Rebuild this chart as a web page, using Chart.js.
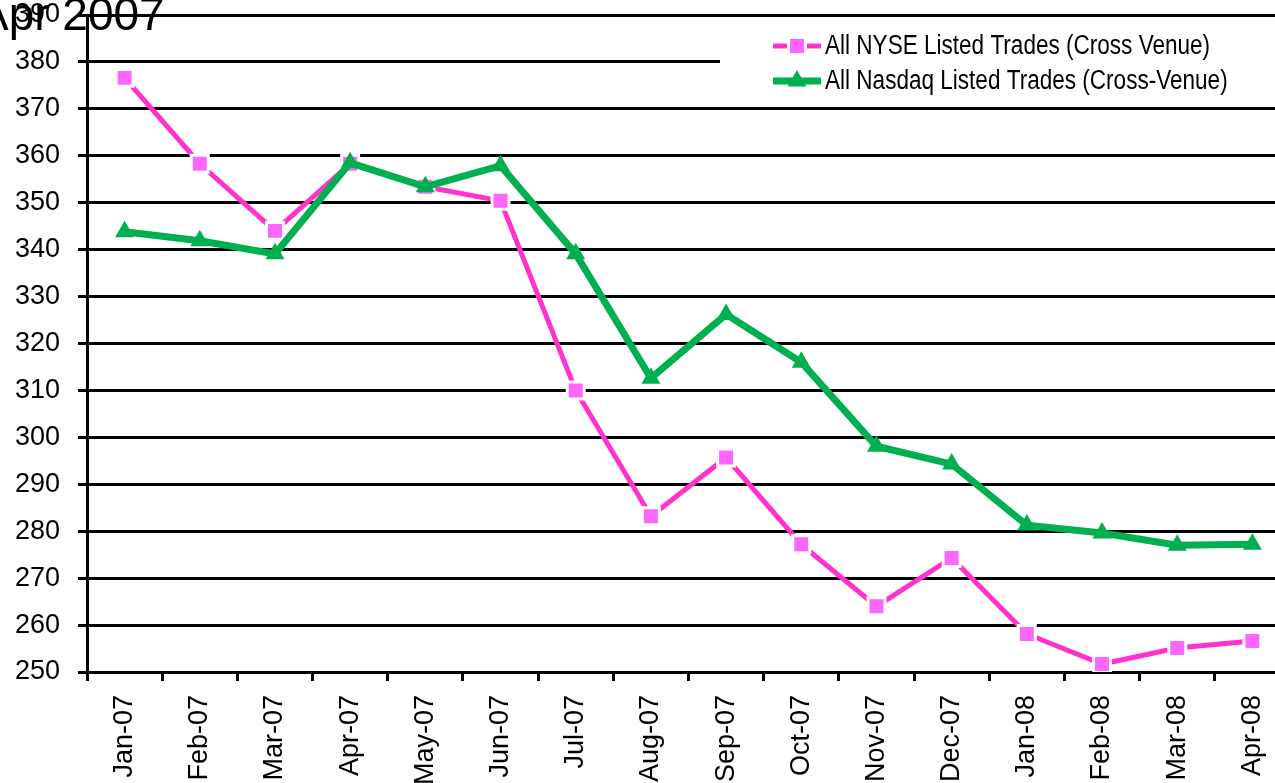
<!DOCTYPE html>
<html>
<head>
<meta charset="utf-8">
<script src="https://cdn.jsdelivr.net/npm/chart.js@4/dist/chart.umd.min.js"></script>
<style>
  html, body { margin: 0; padding: 0; background: #fff; overflow: hidden; }
  #wrap { position: relative; width: 1305px; height: 783px; }
</style>
</head>
<body>
<div id="wrap"><canvas id="c" width="1305" height="783"></canvas></div>
<script>
const chartTitle = 'Apr 2007';
const categories = ['Jan-07','Feb-07','Mar-07','Apr-07','May-07','Jun-07','Jul-07','Aug-07','Sep-07','Oct-07','Nov-07','Dec-07','Jan-08','Feb-08','Mar-08','Apr-08'];
const nyseLabel = 'All NYSE Listed Trades (Cross Venue)';
const nyseValues = [376.6, 358.3, 344.0, 358.3, 353.4, 350.4, 310.0, 283.2, 295.7, 277.2, 264.0, 274.3, 258.1, 251.7, 255.1, 256.6];
const nasdaqLabel = 'All Nasdaq Listed Trades (Cross-Venue)';
const nasdaqValues = [343.8, 341.9, 339.1, 358.5, 353.4, 357.9, 339.1, 312.6, 326.2, 316.0, 298.1, 294.3, 281.3, 279.6, 277.0, 277.2];
const yMin = 250, yMax = 390, yStep = 10;

const FONT = 'Arial, "Liberation Sans", sans-serif';

const overlayPlugin = {
  id: 'overlay',
  afterDraw(chart) {
    const ctx = chart.ctx;
    ctx.save();
    ctx.fillStyle = '#000';
    ctx.font = '46px ' + FONT;
    ctx.textBaseline = 'alphabetic';
    ctx.textAlign = 'left';
    ctx.fillText(chartTitle, -22, 30);

    ctx.fillStyle = '#fff';
    ctx.fillRect(720, 18, 600, 84);
    const rows = [46, 81];
    chart.data.datasets.forEach((ds, i) => {
      const y = rows[i];
      ctx.strokeStyle = ds.borderColor;
      ctx.lineWidth = ds.borderWidth;
      ctx.beginPath();
      ctx.moveTo(773, y);
      ctx.lineTo(821, y);
      ctx.stroke();
      ctx.fillStyle = ds.pointBackgroundColor;
      ctx.strokeStyle = ds.pointBorderColor;
      ctx.lineWidth = ds.pointBorderWidth;
      Chart.helpers.drawPoint(ctx, {
        pointStyle: ds.pointStyle, radius: ds.pointRadius, rotation: 0,
        borderWidth: ds.pointBorderWidth
      }, 797, y);
      ctx.save();
      ctx.fillStyle = '#000';
      ctx.font = '27px ' + FONT;
      ctx.textBaseline = 'middle';
      ctx.translate(825, y + 1);
      ctx.scale(0.835, 1);
      ctx.fillText(ds.label, 0, 0);
      ctx.restore();
    });
    ctx.restore();
  }
};

new Chart(document.getElementById('c'), {
  type: 'line',
  data: {
    labels: categories,
    datasets: [
      {
        label: nyseLabel,
        data: nyseValues,
        borderColor: '#FF33CC',
        borderWidth: 5,
        pointStyle: 'rect',
        pointRadius: 12,
        pointBackgroundColor: '#FF66FF',
        pointBorderColor: '#FFFFFF',
        pointBorderWidth: 3,
        tension: 0,
        order: 1
      },
      {
        label: nasdaqLabel,
        data: nasdaqValues,
        borderColor: '#00B050',
        borderWidth: 7,
        pointStyle: 'triangle',
        pointRadius: 11,
        pointBackgroundColor: '#00B050',
        pointBorderColor: '#00B050',
        pointBorderWidth: 0,
        tension: 0,
        order: 0
      }
    ]
  },
  options: {
    responsive: false,
    animation: false,
    devicePixelRatio: 1,
    layout: { padding: { top: 14, right: 5, left: 0, bottom: 0 } },
    plugins: {
      legend: { display: false },
      title: { display: false },
      tooltip: { enabled: false }
    },
    scales: {
      x: {
        offset: true,
        afterFit(s) { s.height = 111; s.paddingLeft = 0; s.paddingRight = 0; },
        grid: {
          drawOnChartArea: false,
          drawTicks: true,
          tickLength: 9,
          color: '#000',
          lineWidth: 3,
          offset: true
        },
        border: { color: '#000', width: 3 },
        ticks: {
          color: '#000',
          font: { family: FONT, size: 27 },
          minRotation: 90,
          maxRotation: 90,
          padding: 14,
          autoSkip: false
        }
      },
      y: {
        min: yMin,
        max: yMax,
        afterFit(s) { s.width = 87; s.paddingTop = 0; s.paddingBottom = 0; },
        grid: {
          color: '#000',
          lineWidth: 3,
          tickLength: 9,
          drawTicks: true
        },
        border: { color: '#000', width: 3 },
        ticks: {
          stepSize: yStep,
          color: '#000',
          font: { family: FONT, size: 27 },
          padding: 18
        }
      }
    }
  },
  plugins: [overlayPlugin]
});
</script>
</body>
</html>
